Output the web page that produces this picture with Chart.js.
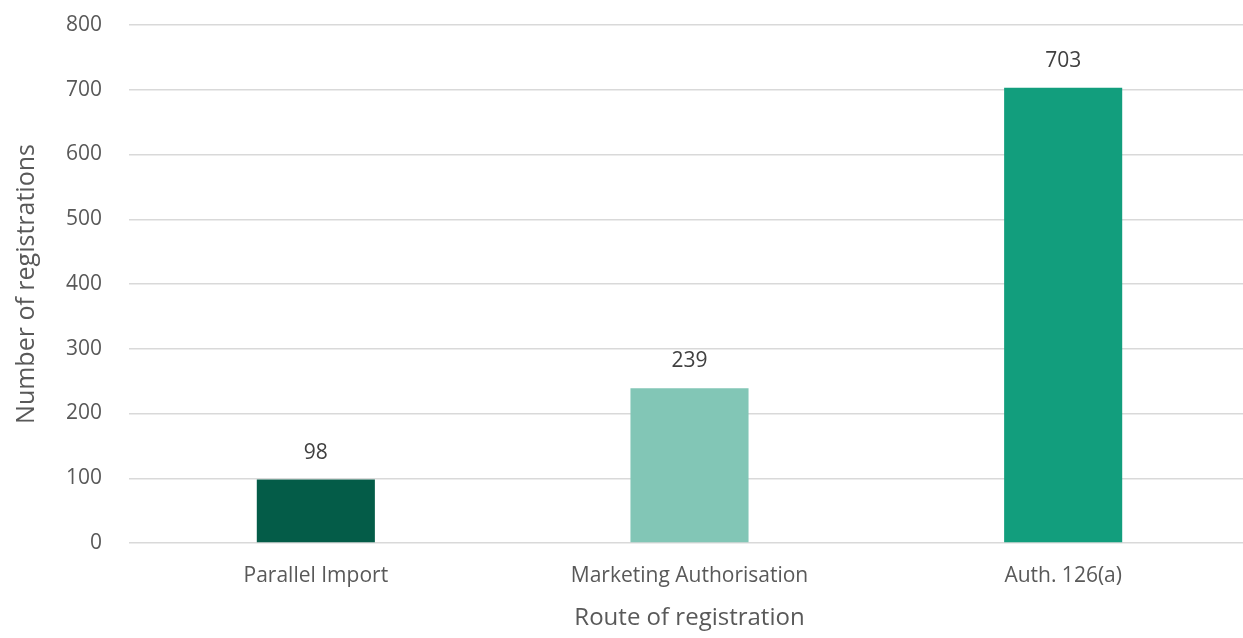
<!DOCTYPE html>
<html>
<head>
<meta charset="utf-8">
<script src="https://cdn.jsdelivr.net/npm/chart.js@4/dist/chart.umd.min.js"></script>
<style>
  html, body { margin: 0; padding: 0; background: #ffffff; overflow: hidden; }
  #wrap { width: 1243px; height: 638px; position: relative; overflow: hidden; }
  #c { position: absolute; left: 0; top: 0; }
</style>
</head>
<body>
<div id="wrap"><canvas id="c" width="1250" height="638"></canvas></div>
<script>
const categories = ["Parallel Import", "Marketing Authorisation", "Auth. 126(a)"];
const registrations = [98, 239, 703];
const barColors = ["#045c48", "#82c6b6", "#129e7d"];
const yTicks = [0, 100, 200, 300, 400, 500, 600, 700, 800];
const xTitle = "Route of registration";
const yTitle = "Number of registrations";

const FONT = "'Open Sans', 'Noto Sans', sans-serif";

const valueLabels = {
  id: 'valueLabels',
  afterDatasetsDraw(chart) {
    const ctx = chart.ctx;
    const meta = chart.getDatasetMeta(0);
    ctx.save();
    ctx.font = "21px " + FONT;
    ctx.fillStyle = "#404040";
    ctx.textAlign = "center";
    ctx.textBaseline = "middle";
    meta.data.forEach((el, i) => {
      ctx.fillText(String(registrations[i]), el.x, el.y - 27);
    });
    ctx.restore();
  }
};

new Chart(document.getElementById('c'), {
  type: 'bar',
  data: {
    labels: categories,
    datasets: [{
      data: registrations,
      backgroundColor: barColors,
      borderWidth: 0,
      barPercentage: 0.316,
      categoryPercentage: 1
    }]
  },
  options: {
    responsive: false,
    animation: false,
    devicePixelRatio: 1,
    layout: { padding: { top: 25, right: 0, bottom: 0, left: 0 } },
    plugins: {
      legend: { display: false },
      tooltip: { enabled: false }
    },
    scales: {
      x: {
        grid: { display: false, drawTicks: false },
        border: { display: false },
        ticks: {
          color: "#595959",
          font: { family: FONT, size: 21 },
          padding: 20,
          maxRotation: 0,
          autoSkip: false
        },
        title: {
          display: true,
          text: xTitle,
          color: "#595959",
          font: { family: FONT, size: 24 },
          padding: { top: 0, bottom: 5 }
        },
        afterFit(scale) { scale.height = 95; }
      },
      y: {
        min: 0,
        max: 800,
        afterBuildTicks(scale) { scale.ticks = yTicks.map(v => ({ value: v })); },
        grid: { color: "#d9d9d9", lineWidth: 1.5, drawTicks: false },
        border: { display: false },
        ticks: {
          color: "#595959",
          font: { family: FONT, size: 21 },
          padding: 27
        },
        title: {
          display: true,
          text: yTitle,
          color: "#595959",
          font: { family: FONT, size: 25 },
          padding: { top: 12, bottom: 0 }
        },
        afterFit(scale) {
          scale.width = 129;
          scale.paddingTop = 0;
          scale.paddingBottom = 0;
        }
      }
    }
  },
  plugins: [valueLabels]
});
</script>
</body>
</html>
